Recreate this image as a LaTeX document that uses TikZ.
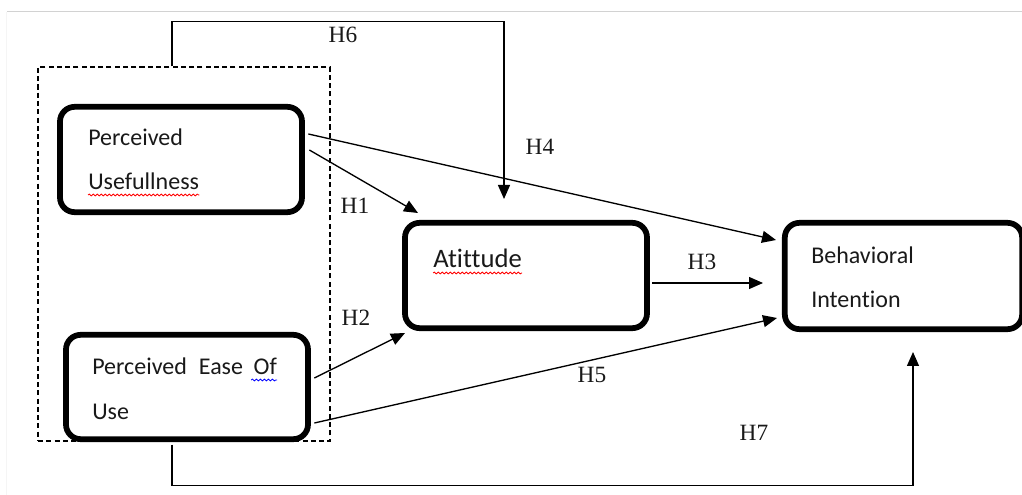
\documentclass[tikz,border=0pt]{standalone}
\usepackage{fontspec}
\setmainfont{Liberation Serif}
\newfontfamily\boxfont[Ligatures=NoCommon]{Carlito}
\usetikzlibrary{arrows.meta,calc,decorations.pathmorphing}
\begin{document}
\begin{tikzpicture}[x=0.75pt,y=-0.75pt,
  box/.style={draw, line width=4.3pt, rounded corners=11pt, inner sep=0pt, minimum width=181.5pt, minimum height=79pt},
  lbl/.style={font=\boxfont\fontsize{18pt}{18pt}\selectfont, anchor=base west, inner sep=0pt, text=black!90},
  hyp/.style={font=\fontsize{17.5pt}{17.5pt}\selectfont, inner sep=0pt, text=black!90},
  conn/.style={line width=1pt, -{Triangle[length=10.5pt,width=9pt]}},
  squig/.style={decorate, decoration={snake, segment length=3pt, amplitude=0.7pt}, line width=0.6pt}
]
\useasboundingbox (0,0) rectangle (1022,495);
\draw[color=gray!35, line width=1.2pt] (7,11.5) -- (1022,11.5);
\draw[color=gray!8, line width=1pt] (6.5,12) -- (6.5,495);

% group frame
\node[draw, dash pattern=on 3.8pt off 2.4pt, line width=1pt, minimum width=219pt, minimum height=280.5pt, inner sep=0pt] (grp) at (184,254) {};

% boxes
\node[box] (pu) at (181,159.5) {};
\node[box, minimum height=78.25pt] (peou) at (187,387) {};
\node[box] (att) at (526,275.5) {};
\node[box, minimum width=178pt, minimum height=79.75pt] (bi) at (903.5,276) {};

% box texts
\node[lbl] (pu1) at (88,146) {Perceived};
\node[lbl] (pu2) at (88,190) {Usefullness};
\node[lbl] (pe1) at (92,375) {Perceived\hspace{9pt}Ease\hspace{8pt}Of};
\node[lbl] (pe2) at (92,420) {Use};
\node[lbl, font=\boxfont\fontsize{20pt}{20pt}\selectfont] (at1) at (433,268) {Atittude};
\node[lbl] (bi1) at (811,264) {Behavioral};
\node[lbl] (bi2) at (811,308) {Intention};

% spell-check squiggles
\draw[squig, red] ($(pu2.base west)+(0,5)$) -- ($(pu2.base east)+(0,5)$);
\draw[squig, red] ($(at1.base west)+(0,5)$) -- ($(at1.base east)+(0,5)$);
\draw[squig, blue] ($(pe1.base east)+(-26,5)$) -- ($(pe1.base east)+(0,5)$);

% free arrow ends
\coordinate (h1t) at (418,213);
\coordinate (h4t) at (776,240);
\coordinate (h2t) at (405,333);
\coordinate (h5t) at (777,318);
\coordinate (h3t) at (763,283);
\coordinate (h6t) at (504,199);
\coordinate (h7t) at (913,352);

% connectors
\draw[conn] ($(pu.east)+(4.5,-9.5)$) -- (h1t);
\draw[conn] ($(pu.east)+(3.5,-25.5)$) -- (h4t);
\draw[conn] ($(peou.east)+(3.5,-9)$) -- (h2t);
\draw[conn] ($(peou.east)+(3.5,36)$) -- (h5t);
\draw[conn] ($(att.east)+(2.5,7.5)$) -- (h3t);
\draw[conn] ($(grp.north)+(-12,0)$) -- ++(0,-45) -| (h6t);
\draw[conn] ($(peou.south)+(-15,2.5)$) -- ++(0,41) -| (h7t);

% hypothesis labels
\node[hyp] (lh6) at (343,35) {H6};
\node[hyp] (lh1) at (355,206) {H1};
\node[hyp] (lh4) at (540,147) {H4};
\node[hyp] (lh3) at (702,262) {H3};
\node[hyp] (lh2) at (356,318) {H2};
\node[hyp] (lh5) at (592,375) {H5};
\node[hyp] (lh7) at (754,433) {H7};
\end{tikzpicture}
\end{document}
